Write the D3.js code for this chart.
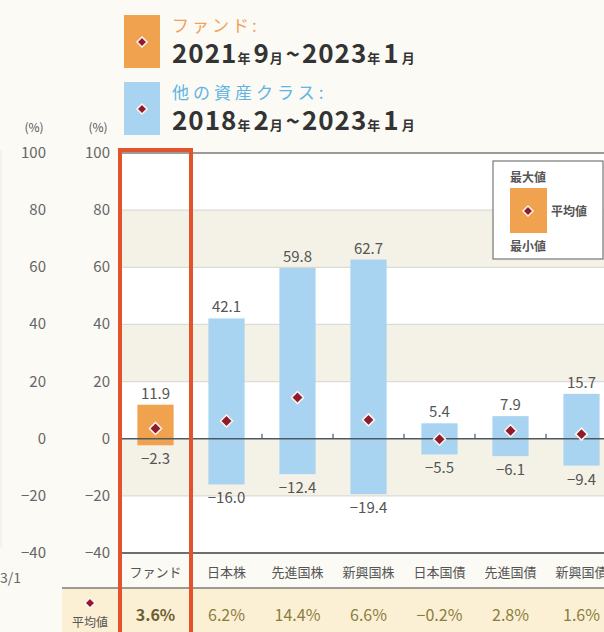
<!DOCTYPE html>
<html>
<head>
<meta charset="utf-8">
<script src="https://cdn.jsdelivr.net/npm/d3@7"></script>
<style>
  body { margin: 0; background: #fbfaf4; }
  svg { display: block; font-family: "Noto Sans CJK JP", "Noto Sans", sans-serif; }
</style>
</head>
<body>
<div class="chart"></div>
<script>
var categories = ["ファンド", "日本株", "先進国株", "新興国株", "日本国債", "先進国債", "新興国債"];
var maxValues = [11.9, 42.1, 59.8, 62.7, 5.4, 7.9, 15.7];
var minValues = [-2.3, -16.0, -12.4, -19.4, -5.5, -6.1, -9.4];
var avgValues = [3.6, 6.2, 14.4, 6.6, -0.2, 2.8, 1.6];
var yTicks = [100, 80, 60, 40, 20, 0, -20, -40];

var svgWidth = 604;
var svgHeight = 632;

var svg = d3.select(".chart")
  .append("svg")
  .attr("width", svgWidth)
  .attr("height", svgHeight);

var plotLeft = 120;
var plotRight = 617;

var y = d3.scaleLinear()
  .domain([-40, 100])
  .range([553, 153]);

var x = d3.scaleBand()
  .domain(categories)
  .range([plotLeft, plotRight])
  .paddingInner(0.49)
  .paddingOuter(0.245);

var step = x.step();

var data = categories.map(function(c, i) {
  return { name: c, max: maxValues[i], min: minValues[i], avg: avgValues[i], fund: i === 0 };
});

// background bands (alternate white / beige)
var bands = d3.pairs(yTicks);
svg.append("g")
  .selectAll("rect")
  .data(bands)
  .enter()
  .append("rect")
  .attr("x", plotLeft)
  .attr("y", function(d) { return y(d[0]); })
  .attr("width", svgWidth - plotLeft)
  .attr("height", function(d) { return y(d[1]) - y(d[0]); })
  .attr("fill", function(d, i) { return i % 2 === 1 ? "#f4f2e6" : "#ffffff"; });

// grid lines
svg.append("g")
  .selectAll("line")
  .data(yTicks.filter(function(t) { return t !== 0 && t !== 100 && t !== -40; }))
  .enter()
  .append("line")
  .attr("x1", plotLeft)
  .attr("x2", svgWidth)
  .attr("y1", function(d) { return y(d); })
  .attr("y2", function(d) { return y(d); })
  .attr("stroke", "#dcdcd4")
  .attr("stroke-width", 1.2);

// top & bottom frame lines
svg.append("line")
  .attr("x1", plotLeft).attr("x2", svgWidth)
  .attr("y1", y(100)).attr("y2", y(100))
  .attr("stroke", "#9a9a9a").attr("stroke-width", 2);
svg.append("line")
  .attr("x1", plotLeft).attr("x2", svgWidth)
  .attr("y1", y(-40)).attr("y2", y(-40))
  .attr("stroke", "#6e6e6e").attr("stroke-width", 2);

// inner y axis labels
svg.append("g")
  .selectAll("text")
  .data(yTicks)
  .enter()
  .append("text")
  .text(function(d) { return d < 0 ? "\u2212" + Math.abs(d) : d; })
  .attr("x", 110)
  .attr("y", function(d) { return y(d) + 5; })
  .attr("text-anchor", "end")
  .attr("font-size", 15)
  .attr("fill", "#666");

// outer (cropped) y axis labels
svg.append("g")
  .selectAll("text")
  .data(yTicks)
  .enter()
  .append("text")
  .text(function(d) { return d < 0 ? "\u2212" + Math.abs(d) : d; })
  .attr("x", 46)
  .attr("y", function(d) { return y(d) + 5; })
  .attr("text-anchor", "end")
  .attr("font-size", 15)
  .attr("fill", "#666");

svg.append("line")
  .attr("x1", 1).attr("x2", 1)
  .attr("y1", 150).attr("y2", 548)
  .attr("stroke", "#ebebe3").attr("stroke-width", 1);

svg.append("text").text("(%)").attr("x", 34).attr("y", 132)
  .attr("text-anchor", "middle").attr("font-size", 12).attr("fill", "#555");
svg.append("text").text("(%)").attr("x", 98).attr("y", 132)
  .attr("text-anchor", "middle").attr("font-size", 12).attr("fill", "#555");
svg.append("text").text("3/1").attr("x", 0).attr("y", 583)
  .attr("font-size", 14).attr("fill", "#666");

// bars
svg.append("g")
  .selectAll("rect")
  .data(data)
  .enter()
  .append("rect")
  .attr("x", function(d) { return x(d.name); })
  .attr("y", function(d) { return y(d.max); })
  .attr("width", x.bandwidth())
  .attr("height", function(d) { return y(d.min) - y(d.max); })
  .attr("fill", function(d) { return d.fund ? "#f0a24e" : "#a8d4f1"; });

// zero line + ticks
svg.append("line")
  .attr("x1", plotLeft).attr("x2", svgWidth)
  .attr("y1", y(0)).attr("y2", y(0))
  .attr("stroke", "#4d5863").attr("stroke-width", 1.6);

svg.append("g")
  .selectAll("line")
  .data(categories.slice(1))
  .enter()
  .append("line")
  .attr("x1", function(d) { return x(d) - (step - x.bandwidth()) / 2; })
  .attr("x2", function(d) { return x(d) - (step - x.bandwidth()) / 2; })
  .attr("y1", y(0))
  .attr("y2", y(0) - 5)
  .attr("stroke", "#4d5863")
  .attr("stroke-width", 1.2);

// max / min labels
function fmt(v) {
  return v < 0 ? "\u2212" + Math.abs(v).toFixed(1) : v.toFixed(1);
}

svg.append("g")
  .selectAll("text")
  .data(data)
  .enter()
  .append("text")
  .text(function(d) { return fmt(d.max); })
  .attr("x", function(d) { return x(d.name) + x.bandwidth() / 2; })
  .attr("y", function(d) { return y(d.max) - 6; })
  .attr("text-anchor", "middle")
  .attr("font-size", 15)
  .attr("fill", "#555");

svg.append("g")
  .selectAll("text")
  .data(data)
  .enter()
  .append("text")
  .text(function(d) { return fmt(d.min); })
  .attr("x", function(d) { return x(d.name) + x.bandwidth() / 2; })
  .attr("y", function(d) { return y(d.min) + 19; })
  .attr("text-anchor", "middle")
  .attr("font-size", 15)
  .attr("fill", "#555");

// average diamonds
function diamond(g, cx, cy, r) {
  g.append("path")
    .attr("d", "M" + cx + "," + (cy - r) + "L" + (cx + r) + "," + cy + "L" + cx + "," + (cy + r) + "L" + (cx - r) + "," + cy + "Z")
    .attr("fill", "#8e1c2c")
    .attr("stroke", "#fff4f0")
    .attr("stroke-width", 1.5);
}

var diamonds = svg.append("g");
data.forEach(function(d) {
  diamond(diamonds, x(d.name) + x.bandwidth() / 2, y(d.avg), 6);
});

// category labels
svg.append("g")
  .selectAll("text")
  .data(categories)
  .enter()
  .append("text")
  .text(function(d) { return d; })
  .attr("x", function(d) { return x(d) + x.bandwidth() / 2; })
  .attr("y", 577)
  .attr("text-anchor", "middle")
  .attr("font-size", 13)
  .attr("fill", "#555");

// average table row
svg.append("rect")
  .attr("x", 62).attr("y", 589)
  .attr("width", svgWidth - 62).attr("height", svgHeight - 589)
  .attr("fill", "#fcf0d4");
svg.append("line")
  .attr("x1", 62).attr("x2", svgWidth)
  .attr("y1", 588).attr("y2", 588)
  .attr("stroke", "#9a9a92").attr("stroke-width", 2);

diamond(svg, 90, 603, 5);
svg.append("text").text("平均値")
  .attr("x", 90).attr("y", 627)
  .attr("text-anchor", "middle").attr("font-size", 12).attr("fill", "#555");

svg.append("g")
  .selectAll("text")
  .data(data)
  .enter()
  .append("text")
  .text(function(d) { return (d.avg < 0 ? "\u2212" + Math.abs(d.avg).toFixed(1) : d.avg.toFixed(1)) + "%"; })
  .attr("x", function(d) { return x(d.name) + x.bandwidth() / 2; })
  .attr("y", 621)
  .attr("text-anchor", "middle")
  .attr("font-size", 16)
  .attr("font-weight", function(d) { return d.fund ? "bold" : "normal"; })
  .attr("fill", function(d) { return d.fund ? "#6e6030" : "#8a7d40"; });

// red frame around fund column
svg.append("rect")
  .attr("x", plotLeft)
  .attr("y", 150)
  .attr("width", step)
  .attr("height", 500)
  .attr("fill", "none")
  .attr("stroke", "#e2532d")
  .attr("stroke-width", 4);

// legend box (right)
var lg = svg.append("g");
lg.append("rect")
  .attr("x", 493).attr("y", 161)
  .attr("width", 110).attr("height", 98)
  .attr("fill", "#fff")
  .attr("stroke", "#777")
  .attr("stroke-width", 1.2);
lg.append("rect")
  .attr("x", 510).attr("y", 188)
  .attr("width", 37).attr("height", 45)
  .attr("fill", "#f0a24e");
diamond(lg, 528, 211, 5);
lg.append("text").text("最大値").attr("x", 528).attr("y", 182)
  .attr("text-anchor", "middle").attr("font-size", 12).attr("font-weight", "bold").attr("fill", "#555");
lg.append("text").text("最小値").attr("x", 528).attr("y", 251)
  .attr("text-anchor", "middle").attr("font-size", 12).attr("font-weight", "bold").attr("fill", "#555");
lg.append("text").text("平均値").attr("x", 551).attr("y", 216)
  .attr("font-size", 12).attr("font-weight", "bold").attr("fill", "#555");

// top legend
var tl = svg.append("g");
tl.append("rect").attr("x", 124).attr("y", 15).attr("width", 36).attr("height", 53).attr("fill", "#f0a24e");
diamond(tl, 142, 42, 5);
tl.append("rect").attr("x", 124).attr("y", 82).attr("width", 36).attr("height", 53).attr("fill", "#a8d4f1");
diamond(tl, 142, 109, 5);

tl.append("text").text("ファンド:")
  .attr("x", 172).attr("y", 32)
  .attr("font-size", 17).attr("letter-spacing", 3)
  .attr("fill", "#f2a05a");
tl.append("text").text("他の資産クラス:")
  .attr("x", 172).attr("y", 99)
  .attr("font-size", 17).attr("letter-spacing", 4)
  .attr("fill", "#62b4e4");

function period(g, yPos, parts) {
  var t = g.append("text")
    .attr("x", 172).attr("y", yPos)
    .attr("fill", "#333")
    .attr("font-weight", "bold");
  parts.forEach(function(p) {
    t.append("tspan")
      .text(p[0])
      .attr("font-size", p[1])
      .attr("letter-spacing", p[2]);
  });
}

period(tl, 63, [["2021", 26, 1], ["年", 13, 3], ["9", 26, 1], ["月", 13, 3], ["~", 24, 2], ["2023", 26, 1], ["年", 13, 3], ["1", 26, 3], ["月", 13, 0]]);
period(tl, 130, [["2018", 26, 1], ["年", 13, 3], ["2", 26, 1], ["月", 13, 3], ["~", 24, 2], ["2023", 26, 1], ["年", 13, 3], ["1", 26, 3], ["月", 13, 0]]);
</script>
</body>
</html>
